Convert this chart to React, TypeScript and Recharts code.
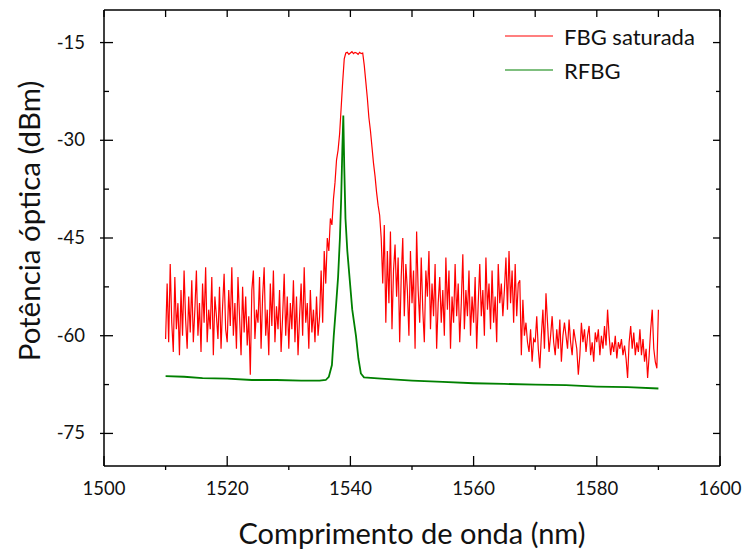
import React from "react";
import { LineChart, Line, XAxis, YAxis, Legend, Label } from "recharts";

// FBG saturada: sampled every 0.25 nm from 1510 nm to 1590 nm
const fbgStart = 1510;
const fbgStep = 0.25;
const fbgPower = [
  // 1510
  -60.5, -52, -61, -49, -58, -62.5, -51, -59, -55, -63, -53, -60, -50, -57.5, -62, -54, -59.5, -51.5, -61, -56,
  // 1515
  -50, -60, -55, -62.5, -52, -58, -49.5, -61, -56, -59, -51, -63, -54, -57, -60.5, -52.5, -62, -55.5, -50.5, -59,
  // 1520
  -61, -53, -58.5, -49.5, -60, -55, -62, -51, -57, -63, -52.5, -59.5, -54, -61.5, -57, -66, -53, -50, -60.5, -56,
  // 1525
  -58, -51, -62, -54, -49.5, -60, -56, -63, -52, -58.5, -50, -61, -55.5, -59, -53, -62.5, -57, -50.5, -60, -54,
  // 1530
  -62, -55, -59, -51.5, -61, -54, -63, -57, -52, -60, -49.5, -58, -55, -62, -53, -59.5, -56, -61, -54, -60,
  // 1535
  -57, -50, -58, -47, -52, -45, -47, -42, -43, -39, -36.5, -33, -31.5, -29, -25, -21, -17.5, -16.6, -16.5, -16.8,
  // 1540
  -16.6, -16.4, -16.7, -16.5, -16.6, -16.8, -16.5, -16.7, -16.6, -18.5, -21, -23.5, -26.5, -28.5, -31, -33.5, -35.5, -38, -40, -41.5,
  // 1545
  -45, -52, -43, -58, -47, -55, -44, -59, -50, -46, -54, -48, -61, -51, -45, -57, -49, -53, -60, -47,
  // 1550
  -55, -50, -62, -44, -53, -58, -48, -56, -61, -50, -54, -47, -59, -52, -57, -49, -62, -55, -51, -58,
  // 1555
  -53, -60, -48, -56, -50, -62, -54, -58, -49, -57, -52, -61, -55, -47.5, -59, -53, -57, -50, -60, -54,
  // 1560
  -58, -51, -62, -55, -49, -57, -53, -60, -48, -56, -52, -59, -50, -58, -54, -61, -49, -55, -52, -57,
  // 1565
  -53, -48, -56, -47, -55, -50, -58, -49, -57, -52, -51.5, -63, -54.5, -60, -58, -61, -62.5, -59, -64, -60.5,
  // 1570
  -61, -57, -62, -65, -60, -56, -62, -53.5, -58, -62.5, -60, -57, -61, -63, -59, -62, -57.5, -64, -60, -58,
  // 1575
  -60, -62, -57.5, -61, -63, -59, -60.5, -62, -66, -63, -58, -61, -59, -62.5, -60, -58.5, -63, -61, -64, -59.5,
  // 1580
  -61, -59, -63, -60, -62, -58.5, -61.5, -56, -60, -63, -61, -62.5, -60, -63.5, -61, -62, -60.5, -63, -61.5, -63.5,
  // 1585
  -66.5, -61, -58.5, -62, -59.5, -63, -61, -62.5, -59, -63, -60.5, -64, -62, -66.5, -63, -59, -56, -62, -64, -65,
  // 1590
  -56,
];

// RFBG
const rfbgWavelength = [
  1510, 1513, 1516, 1520, 1524, 1528, 1532, 1535, 1536, 1536.5, 1537, 1537.3, 1537.7, 1538, 1538.3, 1538.5,
  1538.7, 1538.85, 1539, 1539.2, 1539.5, 1539.9, 1540.3, 1540.9, 1541.3, 1541.7, 1542.2, 1545, 1550, 1555,
  1560, 1565, 1570, 1575, 1580, 1585, 1590,
];
const rfbgPower = [
  -66.2, -66.3, -66.5, -66.6, -66.8, -66.8, -66.9, -66.9, -66.8, -66.3, -64.5, -60, -55, -51, -45, -39,
  -31, -26.2, -34, -42, -47, -51.5, -56, -60, -63.5, -65.8, -66.4, -66.6, -66.9, -67.1,
  -67.3, -67.4, -67.5, -67.6, -67.8, -67.9, -68.1,
];

const xMajor = [1500, 1520, 1540, 1560, 1580, 1600];
const xTicks = [1500, 1510, 1520, 1530, 1540, 1550, 1560, 1570, 1580, 1590, 1600];
const yMajor = [-75, -60, -45, -30, -15];
const yTicks = [-75, -67.5, -60, -52.5, -45, -37.5, -30, -22.5, -15];

const fbgData = fbgPower.map((p, i) => ({ wl: fbgStart + i * fbgStep, p }));
const rfbgData = rfbgWavelength.map((wl, i) => ({ wl, p: rfbgPower[i] }));

const FONT = "Lato, 'Open Sans', sans-serif";

const BottomTick = (props: any) => {
  const { x, y, payload } = props;
  const major = xMajor.includes(payload.value);
  return (
    <g>
      {major ? (
        <line x1={x} x2={x} y1={y} y2={y - 10} stroke="#000" strokeWidth={1.3} />
      ) : (
        <line x1={x} x2={x} y1={y} y2={y + 4} stroke="#000" strokeWidth={1.3} />
      )}
      {major && (
        <text x={x} y={y + 29} textAnchor="middle" fontSize={18.5} fontFamily={FONT} fill="#111">
          {payload.value}
        </text>
      )}
    </g>
  );
};

const TopTick = (props: any) => {
  const { x, y } = props;
  return <line x1={x} x2={x} y1={y} y2={y + 7} stroke="#000" strokeWidth={1.3} />;
};

const LeftTick = (props: any) => {
  const { x, y, payload } = props;
  const major = yMajor.includes(payload.value);
  return (
    <g>
      <line x1={x - (major ? 4 : 0)} x2={x + (major ? 9 : 5)} y1={y} y2={y} stroke="#000" strokeWidth={1.3} />
      {major && (
        <text x={x - 19} y={y + 6} textAnchor="end" fontSize={18.5} fontFamily={FONT} fill="#111">
          {payload.value}
        </text>
      )}
    </g>
  );
};

const RightTick = (props: any) => {
  const { x, y, payload } = props;
  const major = yMajor.includes(payload.value);
  return <line x1={x} x2={x - (major ? 7 : 4)} y1={y} y2={y} stroke="#000" strokeWidth={1.3} />;
};

const renderLegend = () => (
  <div style={{ fontFamily: FONT, fontSize: 22, color: "#111" }}>
    {[
      { name: "FBG saturada", color: "#ff0000" },
      { name: "RFBG", color: "#008000" },
    ].map((s) => (
      <div key={s.name} style={{ display: "flex", alignItems: "center", height: 34 }}>
        <svg width={48} height={4}>
          <line x1={0} x2={48} y1={2} y2={2} stroke={s.color} strokeWidth={1.2} />
        </svg>
        <span style={{ marginLeft: 11 }}>{s.name}</span>
      </div>
    ))}
  </div>
);

export default function App() {
  return (
    <div style={{ position: "absolute", left: 0, top: 0, background: "#fff" }}>
      <LineChart width={745} height={551} margin={{ top: 9, right: 24, bottom: 0, left: 0 }}>
        <XAxis
          dataKey="wl"
          type="number"
          domain={[1500, 1600]}
          ticks={xTicks}
          interval={0}
          height={85}
          tickSize={0}
          tickMargin={0}
          tickLine={false}
          tick={<BottomTick />}
          axisLine={{ stroke: "#000", strokeWidth: 1.5 }}
        >
          <Label
            content={() => (
              <text x={412} y={544} textAnchor="middle" fontSize={29} fontFamily={FONT} fill="#111">
                Comprimento de onda (nm)
              </text>
            )}
          />
        </XAxis>
        <XAxis
          xAxisId="top"
          orientation="top"
          dataKey="wl"
          type="number"
          domain={[1500, 1600]}
          ticks={xTicks}
          interval={0}
          height={1}
          tickSize={0}
          tickMargin={0}
          tickLine={false}
          tick={<TopTick />}
          axisLine={{ stroke: "#000", strokeWidth: 1.5 }}
        />
        <YAxis
          type="number"
          domain={[-80, -10]}
          ticks={yTicks}
          interval={0}
          width={104}
          tickSize={0}
          tickMargin={0}
          tickLine={false}
          tick={<LeftTick />}
          axisLine={{ stroke: "#000", strokeWidth: 1.5 }}
        >
          <Label
            content={() => (
              <text
                x={28}
                y={221}
                transform="rotate(-90 28 221)"
                textAnchor="middle"
                dominantBaseline="central"
                fontSize={29.5}
                fontFamily={FONT}
                fill="#111"
              >
                Potência óptica (dBm)
              </text>
            )}
          />
        </YAxis>
        <YAxis
          yAxisId="right"
          orientation="right"
          type="number"
          domain={[-80, -10]}
          ticks={yTicks}
          interval={0}
          width={1}
          tickSize={0}
          tickMargin={0}
          tickLine={false}
          tick={<RightTick />}
          axisLine={{ stroke: "#000", strokeWidth: 1.5 }}
        />
        <Legend
          layout="vertical"
          align="center"
          verticalAlign="middle"
          content={renderLegend}
          wrapperStyle={{ top: 19, left: 505, width: 215, height: 68 }}
        />
        {/* invisible series so the top and right frame axes get drawn */}
        <Line
          data={rfbgData}
          dataKey="p"
          xAxisId="top"
          yAxisId="right"
          stroke="none"
          dot={false}
          legendType="none"
          isAnimationActive={false}
        />
        <Line
          data={rfbgData}
          dataKey="p"
          name="RFBG"
          stroke="#008000"
          strokeWidth={1.8}
          dot={false}
          isAnimationActive={false}
        />
        <Line
          data={fbgData}
          dataKey="p"
          name="FBG saturada"
          stroke="#ff0000"
          strokeWidth={1.2}
          dot={false}
          isAnimationActive={false}
        />
      </LineChart>
    </div>
  );
}
